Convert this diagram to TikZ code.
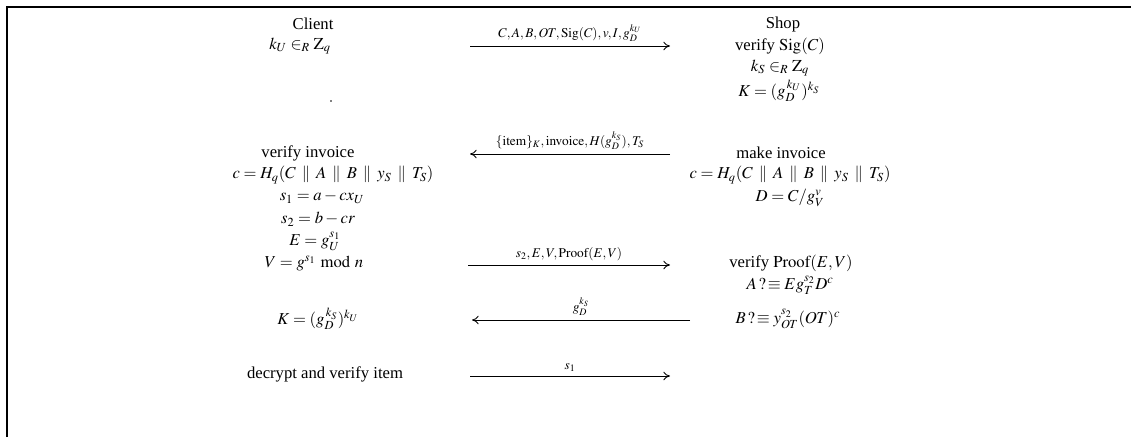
\documentclass[tikz,border=0pt]{standalone}
\usepackage{mathptmx}
\usepackage{fontspec}
\setmainfont{Liberation Serif}
\usetikzlibrary{arrows.meta}
\newcommand{\cat}{\mskip2.5mu\parallel\mskip2.5mu}
\begin{document}
\begin{tikzpicture}[x=0.75pt,y=-0.75pt,
  txt/.style={inner sep=0pt,font=\fontsize{12.5}{14}\selectfont},
  msglbl/.style={inner sep=0pt,above=3pt,font=\fontsize{10}{12}\selectfont},
  msg/.style={-{To[length=5pt,width=6.5pt]},line width=0.65pt}]
\useasboundingbox (0,0) rectangle (1131,437);
\draw[line width=1pt] (7,437) -- (7,7) -- (1131,7);
% client column
\node[txt] (cl) at (313,24) {Client};
\node[txt] (c1) at (300,46) {$k_U \in_R \mathrm{Z}_q$};
\node[circle,fill,inner sep=0.5pt] (dot) at (331,101) {};
\node[txt] (c2) at (308,153) {verify invoice};
\node[txt] (c3) at (333,175) {$c = H_q(C \cat A \cat B \cat y_S \cat T_S)$};
\node[txt] (c4) at (322,197) {$s_1 = a - cx_U$};
\node[txt] (c5) at (318,219) {$s_2 = b - cr$};
\node[txt] (c6) at (315,241) {$E = g_U^{s_1}$};
\node[txt] (c7) at (314,263) {$V = g^{s_1} \bmod n$};
\node[txt] (c8) at (318,319) {$K = (g_D^{\,k_S})^{k_U}$};
\node[txt] (c9) at (325,374) {decrypt and verify item};
% shop column
\node[txt] (sh) at (783,24) {Shop};
\node[txt] (s1) at (780,46) {verify $\mathrm{Sig}(C)$};
\node[txt] (s2) at (780,68) {$k_S \in_R \mathrm{Z}_q$};
\node[txt] (s3) at (779,91) {$K = (g_D^{\,k_U})^{k_S}$};
\node[txt] (s4) at (781,153) {make invoice};
\node[txt] (s5) at (790,175) {$c = H_q(C \cat A \cat B \cat y_S \cat T_S)$};
\node[txt] (s6) at (790,198) {$D = C / g_V^{v}$};
\node[txt] (s7) at (791,263) {verify $\mathrm{Proof}(E,V)$};
\node[txt] (s8) at (790,285) {$A\,?\!\equiv E g_T^{s_2} D^c$};
\node[txt] (s9) at (788,319) {$B\,?\!\equiv y_{OT}^{s_2}(OT)^c$};
% messages
\coordinate (m1a) at (470,46); \coordinate (m1b) at (670,46);
\draw[msg] (m1a) -- node[msglbl] {$C,A,B,OT,\mathrm{Sig}(C),v,I,g_D^{k_U}$} (m1b);
\coordinate (m2a) at (670,154); \coordinate (m2b) at (470,154);
\draw[msg] (m2a) -- node[msglbl] {$\{\mathrm{item}\}_K,\mathrm{invoice},H(g_D^{k_S}),T_S$} (m2b);
\coordinate (m3a) at (468,265); \coordinate (m3b) at (670,265);
\draw[msg] (m3a) -- node[msglbl] {$s_2,E,V,\mathrm{Proof}(E,V)$} (m3b);
\coordinate (m4a) at (690,320); \coordinate (m4b) at (472,320);
\draw[msg] (m4a) -- node[msglbl] {$g_D^{k_S}$} (m4b);
\coordinate (m5a) at (470,376); \coordinate (m5b) at (670,376);
\draw[msg] (m5a) -- node[msglbl] {$s_1$} (m5b);
\end{tikzpicture}
\end{document}
